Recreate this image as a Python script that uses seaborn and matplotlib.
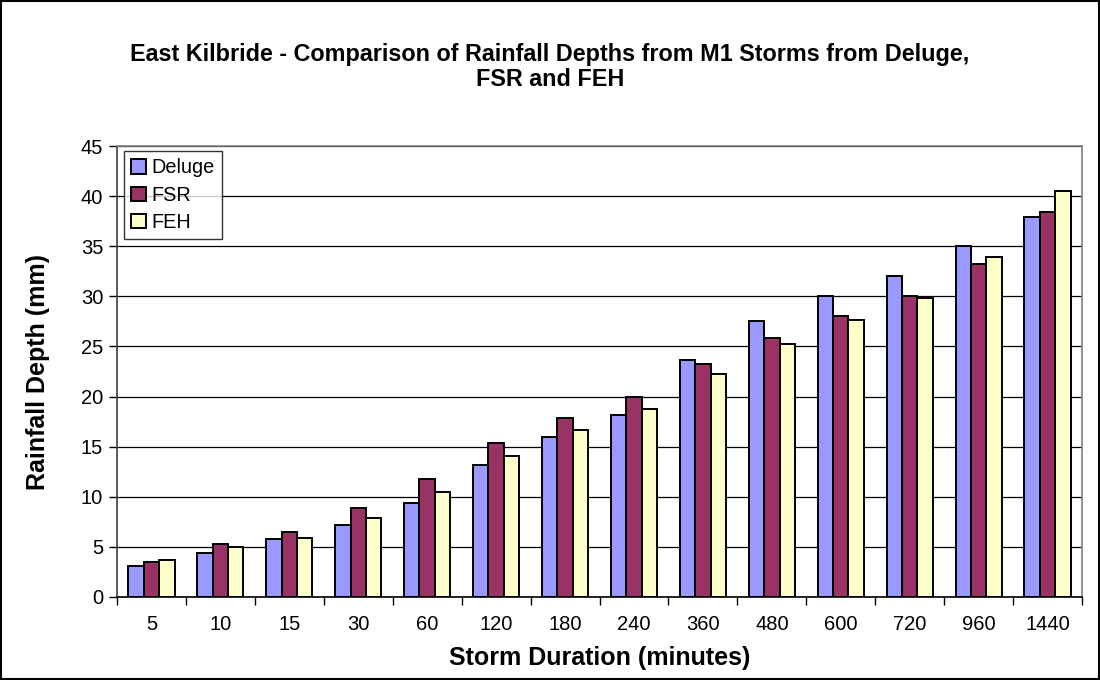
import numpy as np
import pandas as pd
import matplotlib
matplotlib.use("Agg")
import matplotlib.pyplot as plt
import seaborn as sns
from matplotlib.patches import Rectangle
from matplotlib.ticker import FixedLocator

durations = ["5", "10", "15", "30", "60", "120", "180", "240", "360", "480", "600", "720", "960", "1440"]
deluge = [3.1, 4.4, 5.8, 7.2, 9.4, 13.2, 16.0, 18.2, 23.6, 27.5, 30.0, 32.0, 35.0, 37.9]
fsr = [3.5, 5.3, 6.5, 8.9, 11.8, 15.4, 17.9, 20.0, 23.2, 25.8, 28.0, 30.0, 33.2, 38.4]
feh = [3.7, 5.0, 5.9, 7.9, 10.5, 14.1, 16.7, 18.8, 22.3, 25.2, 27.6, 29.8, 33.9, 40.5]
series_names = ["Deluge", "FSR", "FEH"]
colors = ["#9999FF", "#993366", "#FFFFCC"]

df = pd.DataFrame({
    "Duration": durations * 3,
    "Depth": deluge + fsr + feh,
    "Source": [s for s in series_names for _ in durations],
})

sns.set_theme(style="white")
plt.rcParams["font.family"] = ["Liberation Sans", "DejaVu Sans"]
plt.rcParams["text.color"] = "black"
plt.rcParams["axes.labelcolor"] = "black"
plt.rcParams["xtick.color"] = "black"
plt.rcParams["ytick.color"] = "black"

fig = plt.figure(figsize=(11, 6.8), dpi=100)
ax = fig.add_axes([117 / 1100, 83 / 680, 965 / 1100, 451 / 680])

sns.barplot(data=df, x="Duration", y="Depth", hue="Source", order=durations,
            hue_order=series_names, palette=colors, edgecolor="black",
            linewidth=1.4, width=0.67, ax=ax, zorder=3, saturation=1)

ax.set_ylim(0, 45)
ax.set_xlim(-0.5, len(durations) - 0.5)
ax.set_yticks(np.arange(0, 46, 5))
ax.yaxis.grid(True, color="black", linewidth=0.9, zorder=0)
ax.set_axisbelow(True)

# x ticks: labels at centres, tick marks at category boundaries
ax.tick_params(axis="x", which="major", length=0, labelsize=14.5, pad=13, labelcolor="black")
ax.xaxis.set_minor_locator(FixedLocator(np.arange(-0.5, len(durations), 1.0)))
ax.tick_params(axis="x", which="minor", length=6, width=1, color="black", direction="out", bottom=True)
ax.tick_params(axis="y", which="major", length=6, width=1, color="black", direction="out",
               labelsize=14.5, left=True, pad=4, labelcolor="black")

for s in ["top", "right"]:
    ax.spines[s].set_color("#808080")
    ax.spines[s].set_linewidth(1.2)
ax.spines["left"].set_color("#404040")
ax.spines["left"].set_linewidth(1.2)
ax.spines["bottom"].set_color("black")
ax.spines["bottom"].set_linewidth(1.2)

ax.set_xlabel("Storm Duration (minutes)", fontsize=18, fontweight="bold")
ax.set_ylabel("Rainfall Depth (mm)", fontsize=18, fontweight="bold")
ax.xaxis.set_label_coords(0.5, -0.108)
ax.yaxis.set_label_coords(-0.069, 0.5)

fig.text(0.5, 1 - 67 / 680, "East Kilbride - Comparison of Rainfall Depths from M1 Storms from Deluge,\nFSR and FEH",
         ha="center", va="center", fontsize=16.8, fontweight="bold", linespacing=1.15)

leg = ax.legend(loc="upper left", bbox_to_anchor=(0.007, 0.988), frameon=True, fancybox=False,
                edgecolor="black", fontsize=14.3, handlelength=0.75, handleheight=0.75,
                handletextpad=0.3, borderpad=0.35, labelspacing=0.42, borderaxespad=0)
leg.get_frame().set_linewidth(1.0)
leg.set_zorder(5)

fig.patches.append(Rectangle((0.001, 0.001), 0.998, 0.998, transform=fig.transFigure,
                             fill=False, edgecolor="black", linewidth=1.5))

fig.savefig("out.png", dpi=100, facecolor="white")
